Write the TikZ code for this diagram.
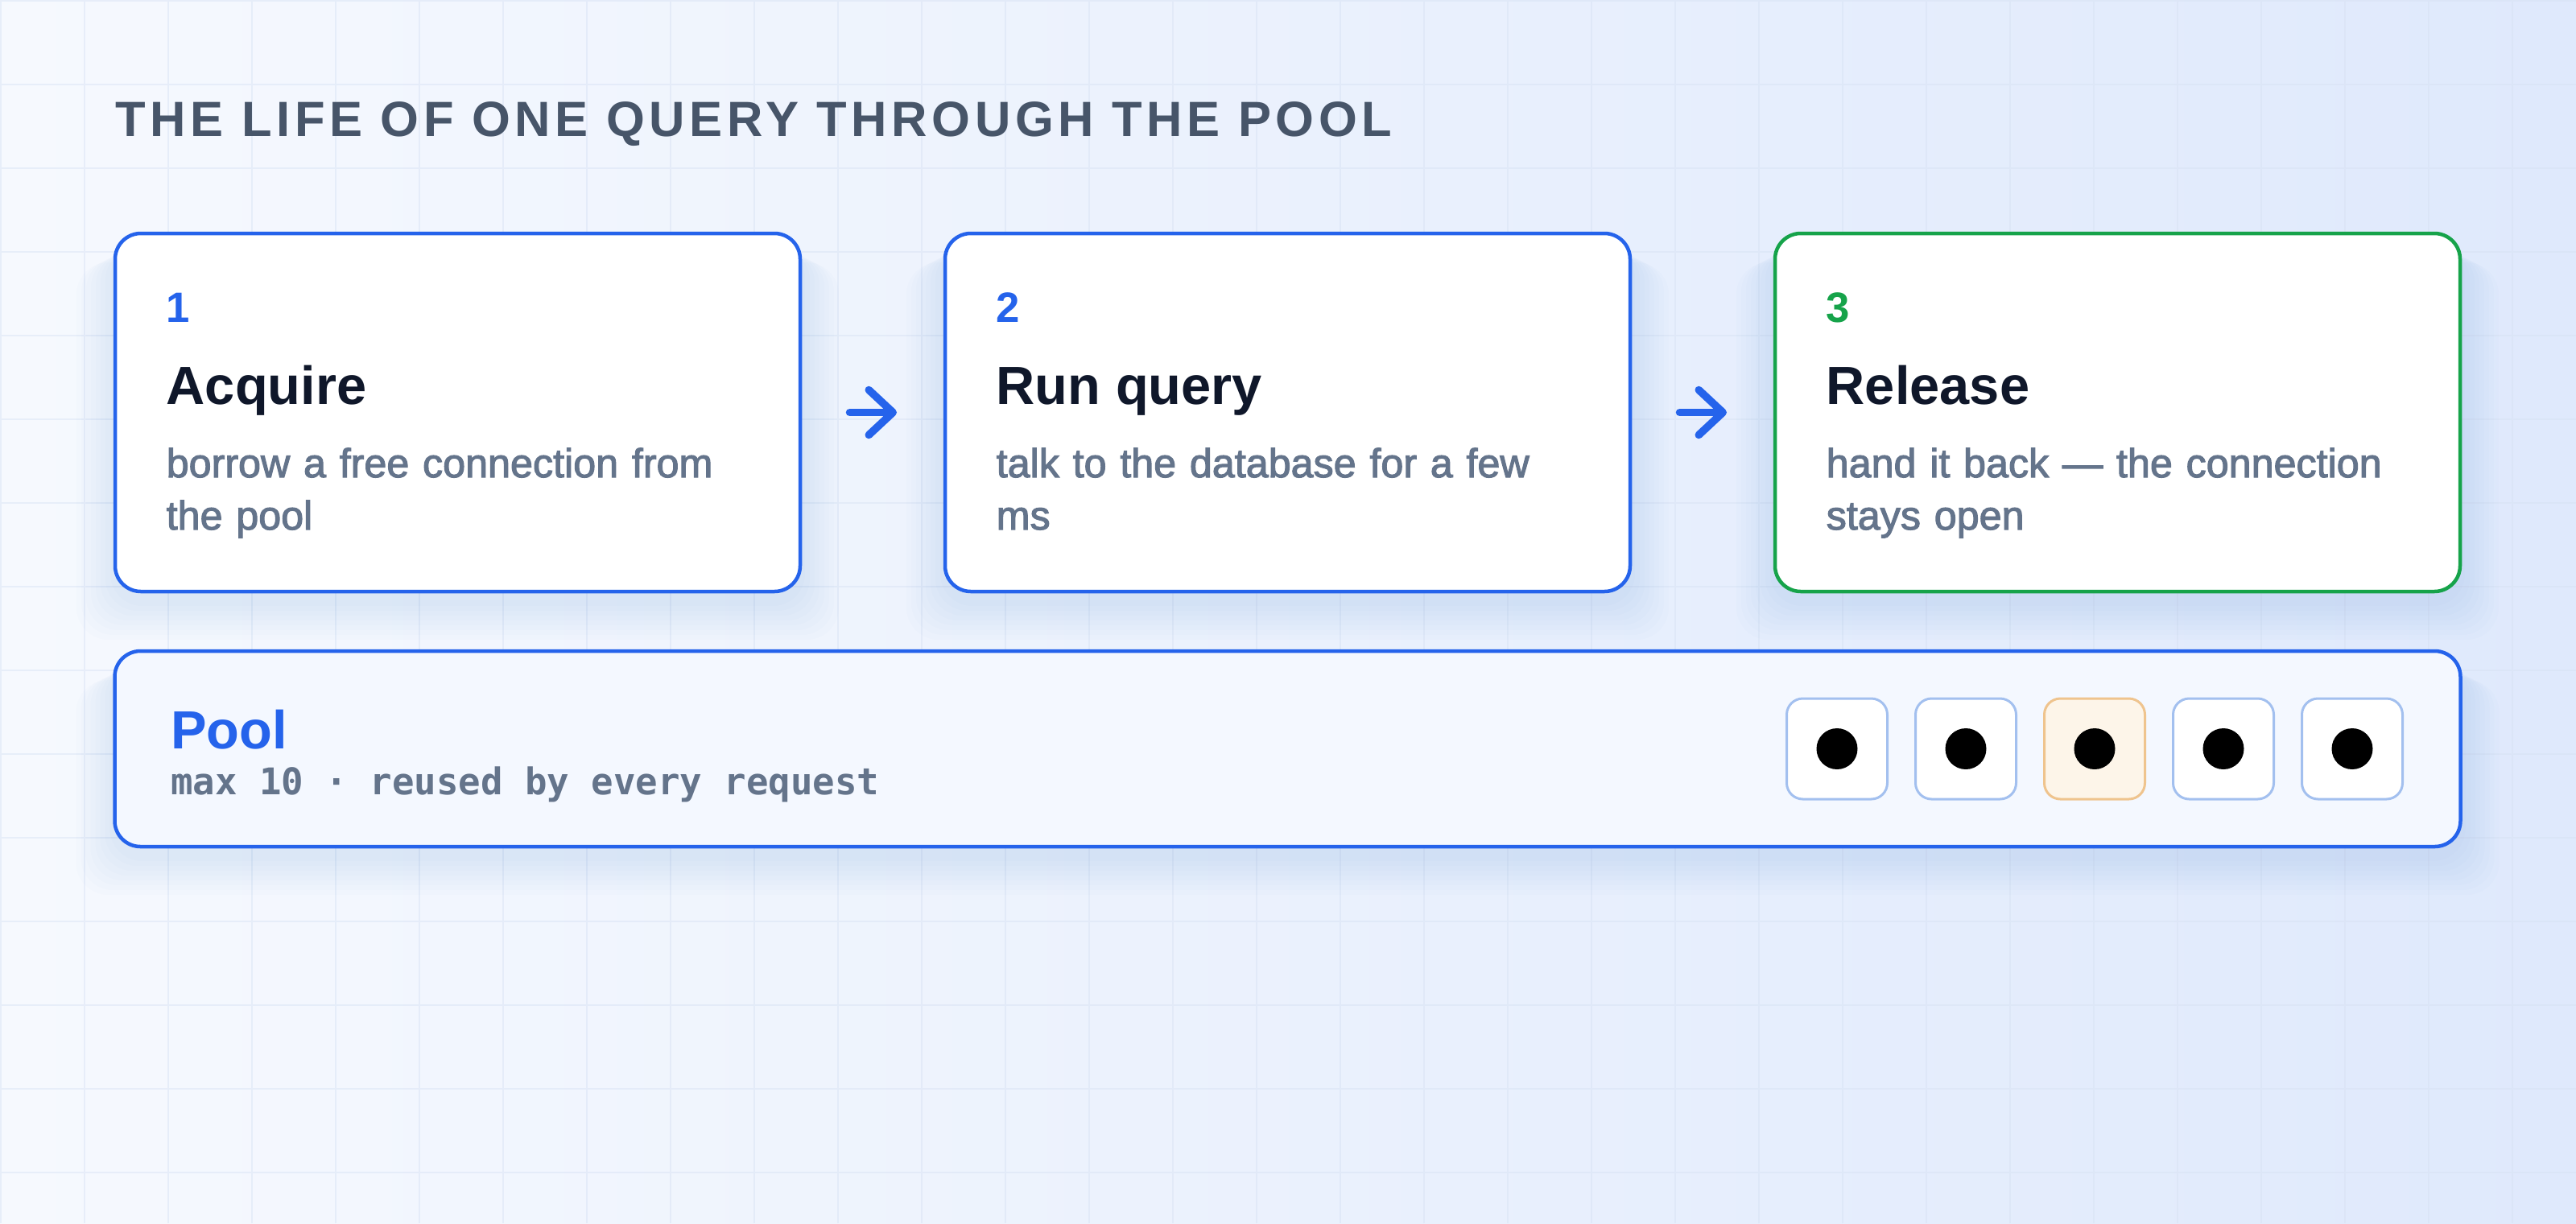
\documentclass[tikz,border=0pt]{standalone}
\usepackage{fontspec}
\setmainfont{Liberation Sans}
\setmonofont{DejaVu Sans Mono}
\newfontfamily\titlefont{Liberation Sans}[LetterSpace=9]
\newfontfamily\descfont{Liberation Sans}[FakeBold=2.2]
\usepackage{xcolor}
\usepackage{tikz}
\usetikzlibrary{arrows.meta,positioning,backgrounds}

\definecolor{bgleft}{HTML}{F6F9FE}
\definecolor{bgright}{HTML}{DFE9FC}
\definecolor{gridc}{HTML}{D6E1F3}
\definecolor{stepblue}{HTML}{2563EB}
\definecolor{stepgreen}{HTML}{16A34A}
\definecolor{titlegray}{HTML}{475569}
\definecolor{headink}{HTML}{0F172A}
\definecolor{descgray}{HTML}{64748B}
\definecolor{poolfill}{HTML}{F4F8FF}
\definecolor{slotblue}{HTML}{A3C0EF}
\definecolor{slotorange}{HTML}{EFC48E}
\definecolor{slotfill}{HTML}{FDF5E9}

\begin{document}
\begin{tikzpicture}[node distance=1.8cm, auto]
        % Define styles
        \tikzset{
            stage/.style={rectangle, rounded corners=0.32cm, draw=stepblue, line width=0.045cm, fill=white, minimum width=8.51cm, minimum height=4.45cm, inner sep=0pt, outer sep=0pt},
            poolbox/.style={stage, fill=poolfill, minimum width=29.14cm, minimum height=2.43cm},
            slot/.style={rectangle, rounded corners=0.2cm, draw=slotblue, line width=0.03cm, fill=white, minimum size=1.25cm, inner sep=0pt},
            busy/.style={slot, draw=slotorange, fill=slotfill},
            num/.style={anchor=base west, inner sep=0pt, text=stepblue, font=\fontsize{15}{18}\selectfont\bfseries},
            head/.style={anchor=base west, inner sep=0pt, text=headink, font=\fontsize{19}{23}\selectfont\bfseries},
            desc/.style={anchor=base west, inner sep=0pt, text=descgray, text width=7.6cm, align=left, font=\descfont\fontsize{14.3}{18.5}\selectfont},
            arrow/.style={line width=0.095cm, stepblue, line cap=round, -{Straight Barb[length=0.3cm, width=0.56cm, round]}, shorten <=0.615cm, shorten >=0.6cm},
            halo/.style={fill=stepblue, opacity=0.012, draw=none}
        }
        \useasboundingbox (0,0) rectangle (32,-15.2);

        % Create nodes
        \node [anchor=base west, inner sep=0pt, text=titlegray, font=\titlefont\fontsize{17.5}{21}\selectfont\bfseries] (title) at (1.43,-1.69) {THE LIFE OF ONE QUERY THROUGH THE POOL};
        \node [stage] (acquire) at (5.685,-5.125) {};
        \node [stage, right=of acquire] (runq) {};
        \node [stage, draw=stepgreen, right=of runq] (release) {};
        \node [poolbox, below=0.74cm of runq] (pool) {};

        % Step texts
        \node [num] (n1) at ([shift={(0.63,-1.10)}]acquire.north west) {1};
        \node [head] (h1) at ([shift={(0.63,-2.12)}]acquire.north west) {Acquire};
        \node [desc] (d1) at ([shift={(0.63,-3.03)}]acquire.north west) {borrow a free connection from\\the pool};
        \node [num] (n2) at ([shift={(0.63,-1.10)}]runq.north west) {2};
        \node [head] (h2) at ([shift={(0.63,-2.12)}]runq.north west) {Run query};
        \node [desc] (d2) at ([shift={(0.63,-3.03)}]runq.north west) {talk to the database for a few\\ms};
        \node [num, text=stepgreen] (n3) at ([shift={(0.63,-1.10)}]release.north west) {3};
        \node [head] (h3) at ([shift={(0.63,-2.12)}]release.north west) {Release};
        \node [desc] (d3) at ([shift={(0.63,-3.03)}]release.north west) {hand it back — the connection\\stays open};

        % Pool texts and slots
        \node [head, text=stepblue] (pooltitle) at ([shift={(0.69,-1.21)}]pool.north west) {Pool};
        \node [anchor=base west, inner sep=0pt, text=descgray, font=\ttfamily\bfseries\fontsize{13}{16}\selectfont] (poolnote) at ([shift={(0.69,-1.78)}]pool.north west) {max 10 · reused by every request};
        \foreach \i/\kind in {1/slot,2/slot,3/busy,4/slot,5/slot} {
            \node [\kind] (slot\i) at ([xshift=-1.345cm-(5-\i)*1.6cm]pool.east) {};
            \fill (slot\i.center) circle (0.255);
        }

        % Create arrows
        \draw [arrow] (acquire) -- (runq);
        \draw [arrow] (runq) -- (release);

        % Background, grid and glow
        \begin{scope}[on background layer]
            \shade [left color=bgleft, right color=bgright] (0,0) rectangle (32,-15.2);
            \draw [gridc, opacity=0.45, line width=0.02cm, step=1.04cm, shift={(0.01,-0.01)}] (-0.01,-15.19) grid (31.99,0.01);
            \foreach \b in {acquire,runq,release,pool}
                \foreach \k in {1,...,8}
                    \fill [halo, rounded corners=0.4cm] ([shift={(-\k*0.06,-0.12-\k*0.03)}]\b.north west) rectangle ([shift={(\k*0.06,-0.12-\k*0.06)}]\b.south east);
        \end{scope}
    \end{tikzpicture}
\end{document}
